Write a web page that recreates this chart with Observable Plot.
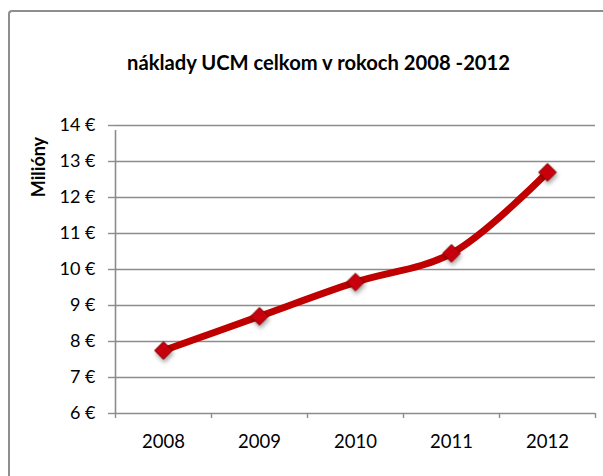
<!DOCTYPE html>
<html>
<head>
<meta charset="utf-8">
<script src="https://cdn.jsdelivr.net/npm/d3@7"></script>
<script src="https://cdn.jsdelivr.net/npm/@observablehq/plot@0.6"></script>
<style>
  html, body { margin: 0; padding: 0; background: #fff; }
  #wrap { position: relative; width: 603px; height: 476px; overflow: hidden; font-family: Lato, "Open Sans", sans-serif; }
  #frame { position: absolute; left: 8px; top: 10px; width: 700px; height: 700px; border-left: 2px solid #8e8e8e; border-top: 2px solid #8e8e8e; border-radius: 4px 0 0 0; box-sizing: border-box; }
  #title { position: absolute; left: 0; width: 637px; top: 50px; text-align: center; font-weight: bold; font-size: 20.2px; color: #000; white-space: nowrap; }
  #ylabel { position: absolute; left: 38px; top: 167px; transform: translate(-50%, -50%) rotate(-90deg); font-weight: bold; font-size: 18px; color: #000; white-space: nowrap; }
  #chart { position: absolute; left: 0; top: 0; }
</style>
</head>
<body>
<div id="wrap">
  <div id="frame"></div>
  <div id="chart"></div>
  <div id="title">náklady UCM celkom v rokoch 2008 -2012</div>
  <div id="ylabel">Milióny</div>
</div>
<script>
const years = [2008, 2009, 2010, 2011, 2012];
const costs = [7.75, 8.7, 9.65, 10.45, 12.7];
const yTicks = [6, 7, 8, 9, 10, 11, 12, 13, 14];
const yearBounds = [2007.5, 2008.5, 2009.5, 2010.5, 2011.5, 2012.5];

const data = years.map((y, i) => ({year: y, cost: costs[i]}));
const gray = "#8c8c8c";

const chart = Plot.plot({
  width: 603,
  height: 476,
  marginLeft: 115,
  marginRight: 8,
  marginTop: 125,
  marginBottom: 63,
  style: {fontFamily: "Lato, 'Open Sans', sans-serif", fontSize: "18px", color: "#000", background: "transparent", overflow: "visible"},
  x: {type: "linear", domain: [2007.5, 2012.5]},
  y: {domain: [6, 14]},
  marks: [
    Plot.ruleY(yTicks.filter(d => d > 6), {stroke: gray, strokeWidth: 1.4, strokeOpacity: 1}),
    Plot.axisY({ticks: yTicks, tickFormat: d => d + " €", tickSize: 7, tickPadding: 13, stroke: gray, strokeWidth: 1.4, strokeOpacity: 1, label: null, fill: "#000"}),
    Plot.axisX({ticks: years, tickFormat: d => String(d), tickSize: 0, tickPadding: 21, label: null, fill: "#000", fontSize: 18.5}),
    Plot.axisX({ticks: yearBounds, tickFormat: () => "", tickSize: 5, stroke: gray, strokeWidth: 1.4, strokeOpacity: 1, label: null}),
    Plot.ruleY([6], {stroke: gray, strokeWidth: 1.6}),
    Plot.ruleX([2007.5], {y1: 6, y2: 14, stroke: gray, strokeWidth: 1.6, insetBottom: -5}),
    Plot.line(data, {x: "year", y: "cost", curve: "catmull-rom", stroke: "#c00000", strokeWidth: 7, strokeLinecap: "round", strokeLinejoin: "round"}),
    Plot.dot(data, {x: "year", y: "cost", symbol: "diamond2", r: 8, fill: "#c8000a", stroke: "#7a0000", strokeWidth: 1, className: "markers"})
  ]
});

document.getElementById("chart").appendChild(chart);

// drop shadow for markers
const svg = d3.select(chart);
const defs = svg.insert("defs", ":first-child");
const f = defs.append("filter").attr("id", "shadow").attr("x", "-50%").attr("y", "-50%").attr("width", "200%").attr("height", "200%");
f.append("feDropShadow").attr("dx", 1).attr("dy", 3).attr("stdDeviation", 2).attr("flood-color", "#000").attr("flood-opacity", 0.35);
svg.selectAll("g.markers").attr("filter", "url(#shadow)");
</script>
</body>
</html>
